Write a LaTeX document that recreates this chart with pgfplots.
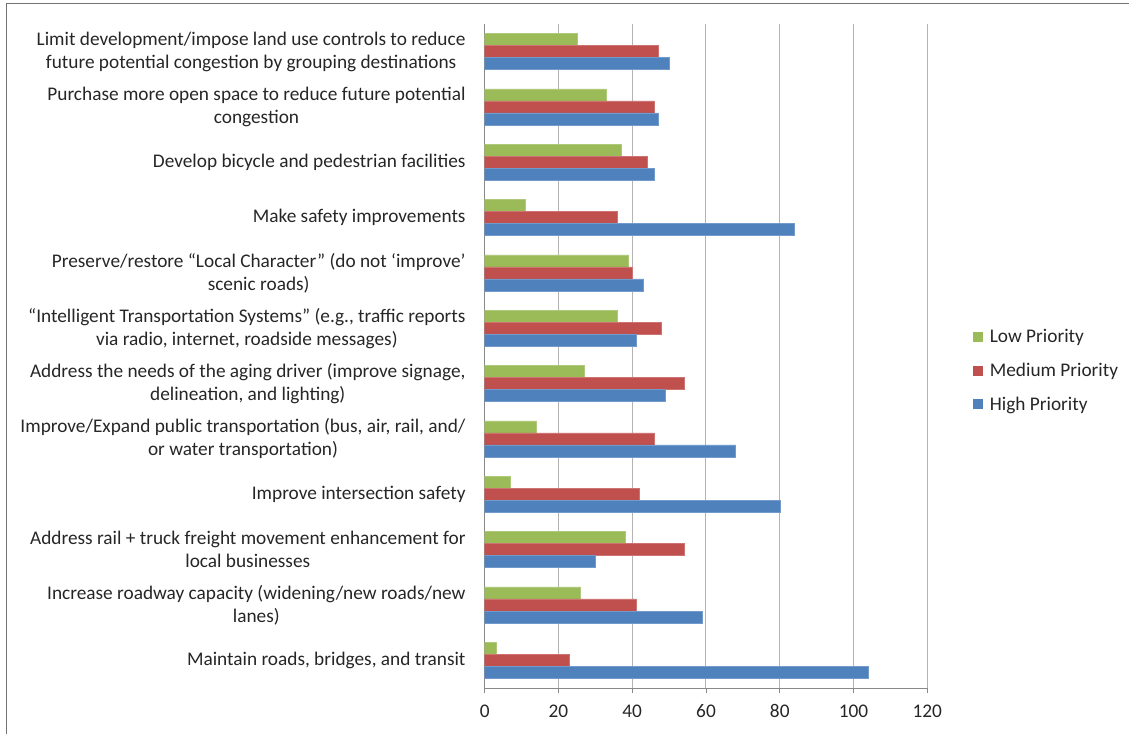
\documentclass[border=0pt]{standalone}
\usepackage{pgfplots}
\pgfplotsset{compat=1.18}
\usepackage{pgfplotstable}
\usepackage{fontspec}
\setmainfont{Carlito}
\definecolor{cLow}{HTML}{9BBB59}
\definecolor{cMed}{HTML}{C0504D}
\definecolor{cHigh}{HTML}{4F81BD}
\definecolor{axgray}{HTML}{898989}
\definecolor{gridgray}{HTML}{B3B3B3}
\pgfplotstableread{
y L M H
0 3 23 104
1 26 41 59
2 38 54 30
3 7 42 80
4 14 46 68
5 27 54 49
6 36 48 41
7 39 40 43
8 11 36 84
9 37 44 46
10 33 46 47
11 25 47 50
}\datatable
\begin{document}
\begin{tikzpicture}
\begin{axis}[
  scale only axis,
  width=442.6bp, height=664bp,
  xmin=0, xmax=120, ymin=-0.5, ymax=11.5,
  xbar, bar width=12bp,
  axis lines*=left,
  axis line style={axgray, line width=0.9bp},
  xtick={0,20,...,120},
  xmajorgrids, major grid style={gridgray, line width=1bp},
  tick align=outside,
  major tick length=5bp, minor tick length=5bp,
  tick style={axgray, line width=0.9bp},
  ytick={0,...,11},
  minor ytick={-0.5,0.5,...,11.5},
  ytick style={draw=none},
  minor tick style={axgray, line width=0.9bp, draw=axgray},
  yticklabels={
    {Maintain roads, bridges, and transit},
    {Increase roadway capacity (widening/new roads/new\\lanes)},
    {Address rail + truck freight movement enhancement for\\local businesses},
    {Improve intersection safety},
    {Improve/Expand public transportation (bus, air, rail, and/\\or water transportation)},
    {Address the needs of the aging driver (improve signage,\\delineation, and lighting)},
    {“Intelligent Transportation Systems” (e.g., traffic reports\\via radio, internet, roadside messages)},
    {Preserve/restore  “Local Character” (do not ‘improve’\\scenic roads)},
    {Make safety improvements},
    {Develop bicycle and pedestrian facilities},
    {Purchase more open space to reduce future potential\\congestion},
    {Limit development/impose land use controls to reduce\\future potential congestion by grouping destinations}},
  yticklabel style={align=center, inner sep=0pt, xshift=-14bp},
  xticklabel style={yshift=-8bp},
  ticklabel style={font=\fontsize{19.3bp}{23bp}\selectfont, text=black!85},
  /pgf/number format/assume math mode=true,
  legend style={at={(1.1025,0.478)}, anchor=west, draw=none, fill=none,
    font=\fontsize{19.3bp}{23bp}\selectfont, text=black!85,
    row sep=15bp, inner sep=0pt},
  legend cell align=left,
  legend image code/.code={\path[draw=none, fill=none] (0bp,0bp) -- (15bp,0bp); \fill[#1, draw=none] (0bp,-5bp) rectangle (10bp,5bp);},
]
\addplot[fill=cLow, draw=cLow!80!white, line width=0.5bp, bar shift=12bp] table[x=L, y=y] {\datatable};
\addplot[fill=cMed, draw=cMed!80!white, line width=0.5bp, bar shift=0bp] table[x=M, y=y] {\datatable};
\addplot[fill=cHigh, draw=cHigh!80!white, line width=0.5bp, bar shift=-12bp] table[x=H, y=y] {\datatable};
\legend{Low Priority, Medium Priority, High Priority}
\end{axis}
\pgfresetboundingbox
\path[use as bounding box] (-484.7bp,-46bp) rectangle (644.3bp,688bp);
\draw[black!55, line width=1.2bp] (-478bp,-46bp) -- (-478bp,684.7bp) -- (644.3bp,684.7bp);
\end{tikzpicture}
\end{document}
